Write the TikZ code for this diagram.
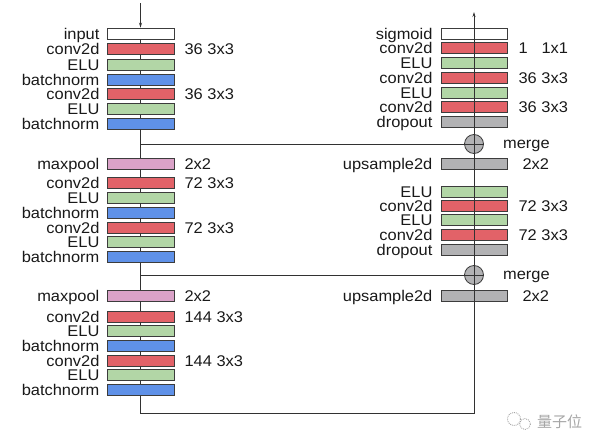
\documentclass[tikz,border=0pt]{standalone}
\usepackage{fontspec}
\setmainfont{Liberation Sans}
\newfontfamily\cjkfont{Noto Sans CJK SC}
\usepackage{graphicx}
\usetikzlibrary{arrows.meta,positioning,calc}
\definecolor{cred}{RGB}{226,98,104}
\definecolor{cgreen}{RGB}{178,214,166}
\definecolor{cblue}{RGB}{95,145,232}
\definecolor{cpink}{RGB}{218,162,200}
\definecolor{cgray}{RGB}{178,178,180}
\definecolor{boxline}{RGB}{60,60,60}
\definecolor{lin}{RGB}{50,50,50}
\definecolor{txt}{RGB}{25,25,25}
\definecolor{wmgray}{RGB}{165,165,165}
\newcommand\wtxt[1]{\scalebox{1.06}[1]{#1}}
\begin{document}
\begin{tikzpicture}[x=1pt,y=-1pt,
  blk/.style={draw=boxline, line width=0.8pt, minimum width=67pt, minimum height=11pt, inner sep=0pt},
  rblk/.style={blk, minimum width=66pt},
  lbl/.style={inner sep=0pt, text height=11.1pt, text depth=0pt, font=\fontsize{15.5}{15.5}\selectfont, text=txt},
  con/.style={draw=lin, line width=0.9pt},
  tip/.style={-{Stealth[length=5pt,width=3pt]}},
  mergec/.style={circle, draw=boxline, fill=cgray, line width=0.8pt, minimum size=19pt, inner sep=0pt}]
\useasboundingbox (0,0) rectangle (600,447);

% ---------- left block A ----------
\node[blk, fill=white]  (a1) at (140.5,33.5) {};
\node[blk, fill=cred]   (a2) at (140.5,49) {};
\node[blk, fill=cgreen] (a3) at (140.5,64.5) {};
\node[blk, fill=cblue]  (a4) at (140.5,79.5) {};
\node[blk, fill=cred]   (a5) at (140.5,94) {};
\node[blk, fill=cgreen] (a6) at (140.5,109) {};
\node[blk, fill=cblue]  (a7) at (140.5,123.5) {};
\node[lbl, left=7pt of a1] (ta1) {\wtxt{input}};
\node[lbl, left=7pt of a2] (ta2) {\wtxt{conv2d}};
\node[lbl, left=7pt of a3] (ta3) {\wtxt{ELU}};
\node[lbl, left=7pt of a4] (ta4) {\wtxt{batchnorm}};
\node[lbl, left=7pt of a5] (ta5) {\wtxt{conv2d}};
\node[lbl, left=7pt of a6] (ta6) {\wtxt{ELU}};
\node[lbl, left=7pt of a7] (ta7) {\wtxt{batchnorm}};
\node[lbl, right=10pt of a2] (va2) {\wtxt{36 3x3}};
\node[lbl, right=10pt of a5] (va5) {\wtxt{36 3x3}};

% ---------- left block B ----------
\node[blk, fill=cpink]  (b1) at (140.5,163.5) {};
\node[blk, fill=cred]   (b2) at (140.5,183) {};
\node[blk, fill=cgreen] (b3) at (140.5,197.5) {};
\node[blk, fill=cblue]  (b4) at (140.5,212.5) {};
\node[blk, fill=cred]   (b5) at (140.5,227.5) {};
\node[blk, fill=cgreen] (b6) at (140.5,242) {};
\node[blk, fill=cblue]  (b7) at (140.5,257) {};
\node[lbl, left=7pt of b1] (tb1) {\wtxt{maxpool}};
\node[lbl, left=7pt of b2] (tb2) {\wtxt{conv2d}};
\node[lbl, left=7pt of b3] (tb3) {\wtxt{ELU}};
\node[lbl, left=7pt of b4] (tb4) {\wtxt{batchnorm}};
\node[lbl, left=7pt of b5] (tb5) {\wtxt{conv2d}};
\node[lbl, left=7pt of b6] (tb6) {\wtxt{ELU}};
\node[lbl, left=7pt of b7] (tb7) {\wtxt{batchnorm}};
\node[lbl, right=10pt of b1] (vb1) {\wtxt{2x2}};
\node[lbl, right=10pt of b2] (vb2) {\wtxt{72 3x3}};
\node[lbl, right=10pt of b5] (vb5) {\wtxt{72 3x3}};

% ---------- left block C ----------
\node[blk, fill=cpink]  (c1) at (140.5,295.5) {};
\node[blk, fill=cred]   (c2) at (140.5,316.5) {};
\node[blk, fill=cgreen] (c3) at (140.5,331) {};
\node[blk, fill=cblue]  (c4) at (140.5,345.5) {};
\node[blk, fill=cred]   (c5) at (140.5,360.5) {};
\node[blk, fill=cgreen] (c6) at (140.5,374.5) {};
\node[blk, fill=cblue]  (c7) at (140.5,390) {};
\node[lbl, left=7pt of c1] (tc1) {\wtxt{maxpool}};
\node[lbl, left=7pt of c2] (tc2) {\wtxt{conv2d}};
\node[lbl, left=7pt of c3] (tc3) {\wtxt{ELU}};
\node[lbl, left=7pt of c4] (tc4) {\wtxt{batchnorm}};
\node[lbl, left=7pt of c5] (tc5) {\wtxt{conv2d}};
\node[lbl, left=7pt of c6] (tc6) {\wtxt{ELU}};
\node[lbl, left=7pt of c7] (tc7) {\wtxt{batchnorm}};
\node[lbl, right=10pt of c1] (vc1) {\wtxt{2x2}};
\node[lbl, right=10pt of c2] (vc2) {\wtxt{144 3x3}};
\node[lbl, right=10pt of c5] (vc5) {\wtxt{144 3x3}};

% ---------- right top block ----------
\node[rblk, fill=white]  (r1) at (474,33.5) {};
\node[rblk, fill=cred]   (r2) at (474,47.5) {};
\node[rblk, fill=cgreen] (r3) at (474,62.5) {};
\node[rblk, fill=cred]   (r4) at (474,77.5) {};
\node[rblk, fill=cgreen] (r5) at (474,92.5) {};
\node[rblk, fill=cred]   (r6) at (474,107) {};
\node[rblk, fill=cgray]  (r7) at (474,121.5) {};
\node[lbl, left=8pt of r1] (tr1) {\wtxt{sigmoid}};
\node[lbl, left=8pt of r2] (tr2) {\wtxt{conv2d}};
\node[lbl, left=8pt of r3] (tr3) {\wtxt{ELU}};
\node[lbl, left=8pt of r4] (tr4) {\wtxt{conv2d}};
\node[lbl, left=8pt of r5] (tr5) {\wtxt{ELU}};
\node[lbl, left=8pt of r6] (tr6) {\wtxt{conv2d}};
\node[lbl, left=8pt of r7] (tr7) {\wtxt{dropout}};
\node[lbl, right=11pt of r2] (vr2) {\wtxt{1\hspace{13pt}1x1}};
\node[lbl, right=11pt of r4] (vr4) {\wtxt{36 3x3}};
\node[lbl, right=11pt of r6] (vr6) {\wtxt{36 3x3}};

% ---------- merge 1 / upsample 1 ----------
\node[mergec] (m1) at (474,144) {};
\node[lbl, right=19pt of m1, yshift=1.5pt] (tm1) {\wtxt{merge}};
\node[rblk, fill=cgray] (u1) at (474,163.5) {};
\node[lbl, left=8pt of u1] (tu1) {\wtxt{upsample2d}};
\node[lbl, right=15pt of u1] (vu1) {\wtxt{2x2}};

% ---------- right middle block ----------
\node[rblk, fill=cgreen] (s1) at (474,191.5) {};
\node[rblk, fill=cred]   (s2) at (474,205.5) {};
\node[rblk, fill=cgreen] (s3) at (474,220) {};
\node[rblk, fill=cred]   (s4) at (474,234.5) {};
\node[rblk, fill=cgray]  (s5) at (474,249.5) {};
\node[lbl, left=8pt of s1] (ts1) {\wtxt{ELU}};
\node[lbl, left=8pt of s2] (ts2) {\wtxt{conv2d}};
\node[lbl, left=8pt of s3] (ts3) {\wtxt{ELU}};
\node[lbl, left=8pt of s4] (ts4) {\wtxt{conv2d}};
\node[lbl, left=8pt of s5] (ts5) {\wtxt{dropout}};
\node[lbl, right=11pt of s2] (vs2) {\wtxt{72 3x3}};
\node[lbl, right=11pt of s4] (vs4) {\wtxt{72 3x3}};

% ---------- merge 2 / upsample 2 ----------
\node[mergec] (m2) at (474,275) {};
\node[lbl, right=19pt of m2, yshift=1.5pt] (tm2) {\wtxt{merge}};
\node[rblk, fill=cgray] (u2) at (474,296) {};
\node[lbl, left=8pt of u2] (tu2) {\wtxt{upsample2d}};
\node[lbl, right=15pt of u2] (vu2) {\wtxt{2x2}};

% ---------- connectors ----------
\coordinate (inp) at (140.5,3);
\coordinate (outp) at (474,12);
\coordinate (cc) at (474,413);
\draw[con, tip] (inp) -- (a1.north);
\foreach \p/\q in {a1/a2,a2/a3,a3/a4,a4/a5,a5/a6,a6/a7,a7/b1,
                   b1/b2,b2/b3,b3/b4,b4/b5,b5/b6,b6/b7,b7/c1,
                   c1/c2,c2/c3,c3/c4,c4/c5,c5/c6,c6/c7,
                   r2/r1,r3/r2,r4/r3,r5/r4,r6/r5,r7/r6,m1/r7,u1/m1,
                   s1/u1,s2/s1,s3/s2,s4/s3,s5/s4,m2/s5}
  \draw[con] (\p.south) -- (\q.north);
\draw[con] (a7.south) |- (m1.west);
\draw[con] (b7.south) |- (m2.west);
\draw[con] (c7.south) |- (cc) -- (m2.south);
\draw[con, tip] (r1.north) -- (outp);
\draw[con] (m1.north) -- (m1.south) (m1.west) -- (m1.east);
\draw[con] (m2.north) -- (m2.south) (m2.west) -- (m2.east);

% ---------- watermark ----------
\draw[wmgray, densely dotted, line width=0.9pt] (514,419) circle (6.5);
\draw[wmgray, densely dotted, line width=0.9pt] (525,424) circle (5.5);
\node[font=\cjkfont\fontsize{15}{15}\selectfont, text=wmgray, anchor=west, inner sep=0pt] (wm) at (537,422) {量子位};
\end{tikzpicture}
\end{document}
